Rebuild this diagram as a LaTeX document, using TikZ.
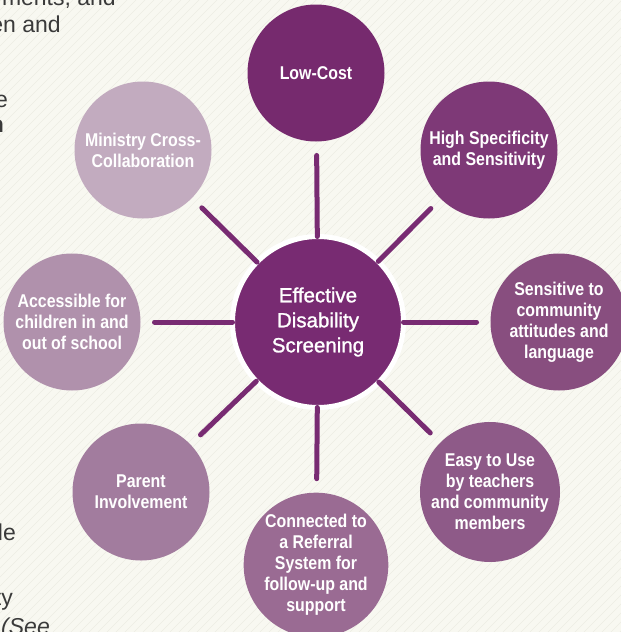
\documentclass[tikz,border=0pt]{standalone}
\usepackage{fontspec}
\setmainfont{Liberation Sans}
\newfontfamily\narrowfont[FakeStretch=0.86]{Liberation Sans}
\newfontfamily\hubfont[FakeBold=1.2]{Liberation Sans}
\usetikzlibrary{calc}
\definecolor{paperBg}{RGB}{248,248,241}
\definecolor{hatchG}{RGB}{237,237,228}
\definecolor{inkG}{RGB}{58,58,58}
\definecolor{hubP}{RGB}{120,43,114}
\definecolor{plumA}{RGB}{118,42,110}
\definecolor{plumB}{RGB}{126,57,119}
\definecolor{plumC}{RGB}{136,78,127}
\definecolor{plumD}{RGB}{142,90,136}
\definecolor{plumE}{RGB}{154,107,147}
\definecolor{plumF}{RGB}{162,124,158}
\definecolor{plumG}{RGB}{176,145,172}
\definecolor{plumH}{RGB}{194,171,191}

\begin{document}
\begin{tikzpicture}[x=1pt, y=-1pt,
  bubble/.style={circle, fill=#1, minimum size=137pt, inner sep=0pt,
    outer sep=0pt, align=center, text=white,
    font=\narrowfont\bfseries\fontsize{18.5}{21}\selectfont},
  hub/.style={circle, fill=hubP, draw=white, line width=5pt,
    minimum size=171pt, inner sep=0pt, outer sep=0pt, align=center,
    text=white, font=\hubfont\fontsize{20.5}{25}\selectfont},
  spoke/.style={line width=5pt, line cap=round, hubP, shorten >=14pt},
  frag/.style={anchor=base east, inner sep=0pt, text=inkG,
    font=\fontsize{23}{28}\selectfont},
]

% page background with faint hatching
\useasboundingbox (0,0) rectangle (621,632);
\clip (0,0) rectangle (621,632);
\fill[paperBg] (0,0) rectangle (621,632);
\foreach \k in {-640,-631,...,630}
  \draw[hatchG, line width=0.6pt] (\k,632) -- (\k+632,0);

% body text cut off at the left edge
\node[frag] (t1) at (116,5) {ments, and};
\node[frag] (t2) at (61,32) {en and};
\node[frag] (t3) at (8,107) {e};
\node[frag, font=\bfseries\fontsize{23}{28}\selectfont] (t4) at (4,132) {n};
\node[frag] (t5) at (16,540) {le};
\node[frag] (t6) at (13,605) {ty};
\node[frag, font=\itshape\fontsize{23}{28}\selectfont] (t7) at (50,634) {(See};

% outer bubbles, clockwise from the top
\node[bubble=plumA] (cost) at (316,73) {Low-Cost};
\node[bubble=plumB] (spec) at (489,150) {High Specificity\\and Sensitivity};
\node[bubble=plumC] (sens) at (559,322) {Sensitive to\\community\\attitudes and\\language};
\node[bubble=plumD] (easy) at (490,492) {Easy to Use\\by teachers\\and community\\members};
\node[bubble=plumE] (refer) at (316,565) {Connected to\\a Referral\\System for\\follow-up and\\support};
\node[bubble=plumF] (parent) at (141,492) {Parent\\Involvement};
\node[bubble=plumG] (access) at (72,322) {Accessible for\\children in and\\out of school};
\node[bubble=plumH] (minis) at (143,150) {Ministry Cross-\\Collaboration};

% centre
\node[hub] (hub) at (318,322) {Effective\\Disability\\Screening};

% spokes
\foreach \n in {cost,spec,sens,easy,refer,parent,access,minis}
  \draw[spoke] (hub) -- (\n);

\end{tikzpicture}
\end{document}
